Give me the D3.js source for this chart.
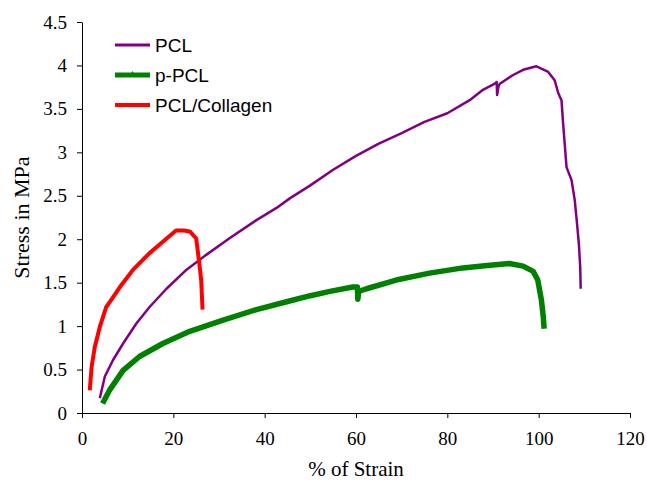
<!DOCTYPE html>
<html lang="en">
	<head>
		<meta charset="utf-8">
		<title>Stress vs Strain</title>
		<script type="text/javascript" src="https://cdn.jsdelivr.net/npm/d3@7"></script>
		<style type="text/css">
			body{
				margin: 0;
				background: white;
			}
			.tickText text{
				font-family: "Liberation Serif", "Times New Roman", serif;
				font-size: 19px;
				fill: black;
			}
			.axisTitle{
				font-family: "Liberation Serif", "Times New Roman", serif;
				font-size: 21px;
				fill: black;
			}
			.legendText{
				font-family: "Liberation Sans", Arial, sans-serif;
				font-size: 19px;
				fill: black;
			}
		</style>
	</head>
	<body>
		<div class="chart"></div>
		<script type="text/javascript">

			var w = 647;
			var h = 484;

			// values (strain %, stress MPa)
			var pclStrain = [3.9,5.0,6.8,9.0,11.9,14.8,18.5,22.9,27.2,32.3,38.2,42.6,45.5,50,55,60,65,70,75,80,84.9,87.8,90.4,90.8,90.9,91.2,91.5,94.4,96.6,99.5,102,103.5,104.3,105,105.3,105.7,106.1,107.2,107.9,108.4,108.8,109.1,109.2];
			var pclStress = [0.17,0.42,0.61,0.80,1.03,1.22,1.43,1.65,1.82,2.01,2.22,2.36,2.47,2.62,2.80,2.96,3.10,3.22,3.35,3.45,3.60,3.72,3.79,3.81,3.66,3.76,3.79,3.89,3.95,3.99,3.93,3.83,3.68,3.60,3.37,3.10,2.83,2.68,2.45,2.18,1.95,1.68,1.43];

			var ppclStrain = [4.5,6.0,9.0,12.6,17.7,23.6,30.9,38.2,44.8,50,54.3,59.3,60.3,60.4,60.6,62.3,68.8,76.1,83.4,89.3,93.6,96.6,98.8,99.8,100.6,101,101.2];
			var ppclStress = [0.11,0.26,0.49,0.65,0.80,0.94,1.07,1.19,1.28,1.35,1.40,1.45,1.45,1.31,1.40,1.43,1.53,1.61,1.67,1.70,1.72,1.69,1.63,1.53,1.30,1.11,0.97];

			var collStrain = [1.7,2.1,2.8,3.9,5.3,6.1,8.3,11.2,14.8,17.7,20.6,22.3,23.6,25.0,25.6,26.1,26.4];
			var collStress = [0.26,0.53,0.76,0.99,1.22,1.28,1.45,1.65,1.84,1.97,2.10,2.10,2.09,2.01,1.76,1.53,1.19];

			var xTicks = [0,20,40,60,80,100,120];
			var yTicks = [0,0.5,1,1.5,2,2.5,3,3.5,4,4.5];

			var seriesNames = ["PCL","p-PCL","PCL/Collagen"];
			var seriesColors = ["#800080","#008000","#ff0000"];
			var seriesWidths = [2.5,5.5,4];

			function zip(xs, ys){
				return xs.map(function(x, i){ return [x, ys[i]]; });
			}

			var series = [
				zip(pclStrain, pclStress),
				zip(ppclStrain, ppclStress),
				zip(collStrain, collStress)
			];

			var svg = d3.select("div.chart")
						.append("svg")
						.attr("width", w)
						.attr("height", h);

			var xScale = d3.scaleLinear()
							.domain([0,120])
							.range([82,630]);

			var yScale = d3.scaleLinear()
							.domain([0,4.5])
							.range([413,22]);

			var line = d3.line()
						.x((d)=> xScale(d[0]))
						.y((d)=> yScale(d[1]));

			// draw order: green first, purple, then red on top
			[1,0,2].forEach(function(i){
				svg.append("path")
					.datum(series[i])
					.attr("fill","none")
					.attr("stroke",seriesColors[i])
					.attr("stroke-width",seriesWidths[i])
					.attr("stroke-linejoin","round")
					.attr("d",line);
			});

			var xAxis = d3.axisBottom(xScale)
							.tickValues(xTicks)
							.tickFormat((d)=> String(d))
							.tickSizeInner(5)
							.tickSizeOuter(0)
							.tickPadding(14);

			var yAxis = d3.axisLeft(yScale)
							.tickValues(yTicks)
							.tickFormat((d)=> String(d))
							.tickSizeInner(5)
							.tickSizeOuter(0)
							.tickPadding(10);

			svg.append("g")
				.attr("class","tickText")
				.attr("transform","translate(0,"+yScale(0)+")")
				.call(xAxis);

			svg.append("g")
				.attr("class","tickText")
				.attr("transform","translate("+xScale(0)+",0)")
				.call(yAxis);

			svg.selectAll(".domain, .tick line")
				.attr("stroke","black");
			svg.selectAll(".tickText text")
				.attr("font-family",null)
				.attr("font-size",null);

			svg.append("text")
				.attr("class","axisTitle")
				.attr("x",(xScale(0)+xScale(120))/2)
				.attr("y",476)
				.attr("text-anchor","middle")
				.text("% of Strain");

			svg.append("text")
				.attr("class","axisTitle")
				.attr("transform","translate(29,"+((yScale(0)+yScale(4.5))/2)+") rotate(-90)")
				.attr("text-anchor","middle")
				.style("font-size","22px")
				.text("Stress in MPa");

			var legend = svg.append("g")
							.attr("transform","translate(115,45)");

			var legendY = d3.scalePoint()
							.domain(seriesNames)
							.range([0,60]);

			var items = legend.selectAll("g")
							.data(seriesNames)
							.enter()
							.append("g")
							.attr("transform",(d)=> "translate(0,"+legendY(d)+")");

			items.append("line")
				.attr("x1",0)
				.attr("x2",35)
				.attr("stroke",(d,i)=> seriesColors[i])
				.attr("stroke-width",(d,i)=> i == 1 ? 5 : (i == 2 ? 4 : 3));

			items.filter((d,i)=> i == 1)
				.append("path")
				.attr("transform","translate(17.5,0)")
				.attr("d",d3.symbol().type(d3.symbolTriangle).size(20))
				.attr("fill",seriesColors[1]);

			items.append("text")
				.attr("class","legendText")
				.attr("x",40)
				.attr("dy","0.35em")
				.text((d)=> d);
		</script>
	</body>
</html>
